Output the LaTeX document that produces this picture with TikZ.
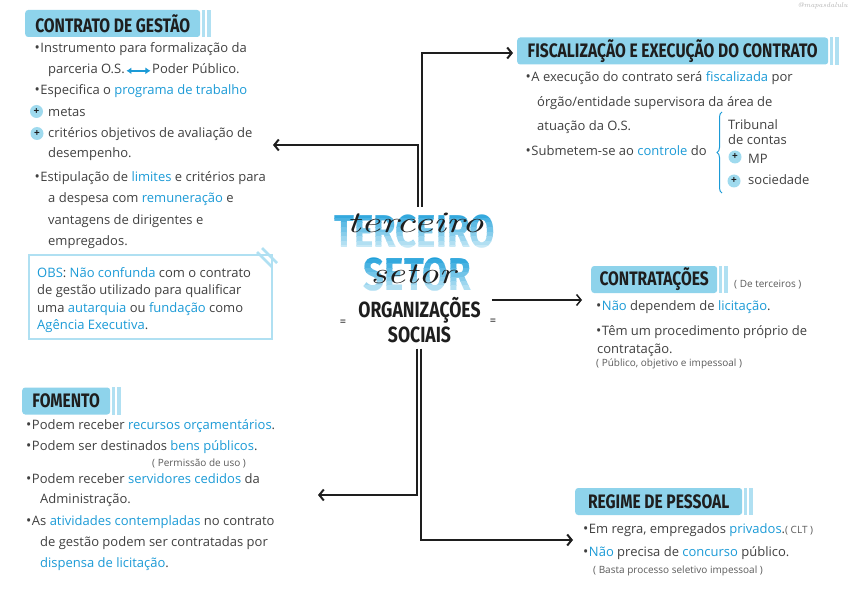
\documentclass[tikz,border=0pt]{standalone}
\usepackage{fontspec}
\usepackage{graphicx}
\usepackage{tikz}
\usetikzlibrary{arrows.meta,decorations.pathreplacing}
\newfontfamily\bodyf{Open Sans}
\newfontfamily\headf[FakeStretch=0.8]{Fira Sans}
\definecolor{HBlue}{HTML}{8ED3EB}
\definecolor{HStripe}{HTML}{B0E0F2}
\definecolor{Acc}{HTML}{1B9AD6}
\definecolor{Ink}{HTML}{404040}
\definecolor{InkD}{HTML}{1E1E1E}
\definecolor{Note}{HTML}{5A5A5A}
\definecolor{GTop}{HTML}{1FA0DA}
\definecolor{GBot}{HTML}{CDEBF7}
\newcommand{\hl}[1]{\textcolor{Acc}{#1}}
\newcommand{\bul}{{\fontsize{14}{14}\selectfont\textbullet}\hspace{0.5pt}}

\begin{document}
\begin{tikzpicture}[x=1pt,y=-1pt,
  head/.style={fill=HBlue,rounded corners=3pt,minimum height=27pt,inner sep=0pt,
    anchor=west,text=InkD,font=\headf\bfseries\fontsize{19.5}{20}\selectfont},
  stripe/.style={fill=HStripe},
  body/.style={anchor=base west,inner sep=0pt,text=Ink,font=\bodyf\fontsize{13}{15}\selectfont},
  note/.style={anchor=base west,inner sep=0pt,text=Note,font=\bodyf\fontsize{10}{12}\selectfont},
  plus/.style={circle,fill=HBlue!85!white,minimum size=13pt,inner sep=0pt,text=InkD,
    font=\bodyf\bfseries\fontsize{10}{10}\selectfont},
  big/.style={anchor=base,inner sep=0pt,font=\headf\bfseries\fontsize{46}{46}\selectfont},
  swash/.style={anchor=base,inner sep=0pt,text=InkD,font=\itshape\fontsize{30}{30}\selectfont},
  caps/.style={anchor=base,inner sep=0pt,text=InkD,font=\headf\bfseries\fontsize{22}{22}\selectfont},
  arr/.style={draw=InkD,line width=2pt,-{Straight Barb[length=4.5pt,width=11pt]}},
  dbl/.style={draw=Acc,line width=1.8pt,shorten <=1.5pt,shorten >=1.5pt,
    {Latex[length=5pt,width=7pt]}-{Latex[length=5pt,width=7pt]}},
  brc/.style={draw=Acc,line width=1pt,decorate,decoration={brace,amplitude=5pt}},
  obsline/.style={draw=HStripe,line width=1.5pt}
]
\useasboundingbox (0,0) rectangle (849,591);
\node[inner sep=0pt,text=gray!60,font=\itshape\fontsize{7}{7}\selectfont,anchor=north east] (wm) at (848,2) {@mapasdalulu};

% centro
\foreach \k in {0,...,8}{
  \pgfmathtruncatemacro\tint{100-12*\k}
  \begin{scope}
    \clip (320,{209+4.6*\k}) rectangle (510,{213.6+4.6*\k});
    \node[big,text=GTop!\tint!GBot] (ter\k) at (414.5,247) {TERCEIRO};
  \end{scope}
  \begin{scope}
    \clip (320,{255+4.4*\k}) rectangle (510,{259.4+4.4*\k});
    \node[big,text=GTop!\tint!GBot] (setr\k) at (417.5,290) {SETOR};
  \end{scope}}
\node[swash] (scr1) at (415,233) {\scalebox{1.45}[1]{terceiro}};
\node[swash] (scr2) at (413,283) {\scalebox{1.35}[1]{setor}};
\node[caps] (org) at (419.5,317) {ORGANIZAÇÕES};
\node[caps] (soc) at (419.5,342) {SOCIAIS};
\node[inner sep=0pt,font=\bodyf\fontsize{11}{11}\selectfont] (eqL) at (343,323) {=};
\node[inner sep=0pt,font=\bodyf\fontsize{11}{11}\selectfont] (eqR) at (493,322) {=};

% titulos
\node[head,minimum width=175pt] (cg) at (25,23.5) {CONTRATO DE GESTÃO};
\node[head,minimum width=311pt] (fi) at (517,51) {FISCALIZAÇÃO E EXECUÇÃO DO CONTRATO};
\node[head,minimum width=126pt] (ct) at (591,279.5) {CONTRATAÇÕES};
\node[head,minimum width=88pt] (fo) at (22,401) {FOMENTO};
\node[head,minimum width=167pt] (rp) at (575,501.5) {REGIME DE PESSOAL};
\foreach \h in {cg,fi,ct,fo,rp}{
  \fill[stripe] ([xshift=1.5pt]\h.north east) rectangle ([xshift=5pt]\h.south east);
  \fill[stripe] ([xshift=7pt]\h.north east) rectangle ([xshift=10.5pt]\h.south east);}

% ligacoes
\coordinate (eCG) at (273,145);
\coordinate (eFI) at (513,53);
\coordinate (eCT) at (582,300);
\coordinate (eFO) at (318,495);
\coordinate (eRP) at (573,540);
\draw[arr] ([shift={(3.5pt,7.5pt)}]ter0.north) |- (eCG);
\draw[arr] ([shift={(7.5pt,7.5pt)}]ter0.north) |- (eFI);
\draw[arr,line width=1.5pt] (eCT -| org.east) ++(11pt,0) -- (eCT);
\draw[arr] ([shift={(-2.5pt,-6pt)}]soc.south) |- (eFO);
\draw[arr] ([shift={(1.5pt,-6pt)}]soc.south) |- (eRP);

% contrato de gestao
\node[body] (cg1) at (34.5,53) {\bul Instrumento para formalização da};
\node[body] (cg2a) at (48,74) {parceria O.S.};
\node[body] (cg2b) at ([xshift=27pt]cg2a.base east) {Poder Público.};
\draw[dbl] (cg2a.east) -- (cg2a.east -| cg2b.west);
\node[body] (cg3) at (34.5,95) {\bul Especifica o \hl{programa de trabalho}};
\node[body] (cg4) at (48,117) {metas};
\node[body] (cg5) at (48,138) {critérios objetivos de avaliação de};
\node[body] (cg6) at (48,158) {desempenho.};
\node[body] (cg7) at (34.5,182) {\bul Estipulação de \hl{limites} e critérios para};
\node[body] (cg8) at (48,203) {a despesa com \hl{remuneração} e};
\node[body] (cg9) at (48,224) {vantagens de dirigentes e};
\node[body] (cg10) at (48,245) {empregados.};
\node[plus] (pl1) at (36.5,111.5) {+};
\node[plus] (pl2) at (37,133.5) {+};

% obs
\draw[obsline] (29,255) rectangle (272,339);
\draw[obsline,line width=2.5pt] (257,252) -- (272,267) (262,248) -- (277,263);
\node[body] (ob1) at (37,277) {\hl{OBS}: \hl{Não confunda} com o contrato};
\node[body] (ob2) at (37,294.5) {de gestão utilizado para qualificar};
\node[body] (ob3) at (37,312) {uma \hl{autarquia} ou \hl{fundação} como};
\node[body] (ob4) at (37,329.5) {\hl{Agência Executiva}.};

% fiscalizacao
\node[body] (fi1) at (525.5,82) {\bul A execução do contrato será \hl{fiscalizada} por};
\node[body] (fi2) at (537,107) {órgão/entidade supervisora da área de};
\node[body] (fi3) at (537,131) {atuação da O.S.};
\node[body] (fi4) at (525.5,156) {\bul Submetem-se ao \hl{controle} do};
\node[body] (tb1) at (728,130) {Tribunal};
\node[body] (tb2) at (728,145) {de contas};
\node[plus] (pl3) at (735,157) {+};
\node[body] (mp) at (748,164) {MP};
\node[plus] (pl4) at (734,181) {+};
\node[body] (sd) at (748,185) {sociedade};
\draw[brc] (722,193) -- (722,112);

% contratacoes
\node[note] (ctn) at (734,287) {( De terceiros )};
\node[body] (ct1) at (596,310) {\bul \hl{Não} dependem de \hl{licitação}.};
\node[body] (ct2) at (596,335) {\bul Têm um procedimento próprio de};
\node[body] (ct3) at (597,353) {contratação.};
\node[note] (ct4) at (596,366.5) {( Público, objetivo e impessoal )};

% fomento
\node[body] (fo1) at (26,429) {\bul Podem receber \hl{recursos orçamentários}.};
\node[body] (fo2) at (26,450) {\bul Podem ser destinados \hl{bens públicos}.};
\node[note] (fo3) at (152,466) {( Permissão de uso )};
\node[body] (fo4) at (26,483) {\bul Podem receber \hl{servidores cedidos} da};
\node[body] (fo5) at (40,503) {Administração.};
\node[body] (fo6) at (26,525) {\bul As \hl{atividades contempladas} no contrato};
\node[body] (fo7) at (40,546) {de gestão podem ser contratadas por};
\node[body] (fo8) at (40,567) {\hl{dispensa de licitação}.};

% regime de pessoal
\node[body] (rp1) at (583,533) {\bul Em regra, empregados \hl{privados}.{\fontsize{10}{12}\selectfont\color{Note}( CLT )}};
\node[body] (rp2) at (583,556) {\bul \hl{Não} precisa de \hl{concurso} público.};
\node[note] (rp3) at (593,573) {( Basta processo seletivo impessoal )};
\end{tikzpicture}
\end{document}
